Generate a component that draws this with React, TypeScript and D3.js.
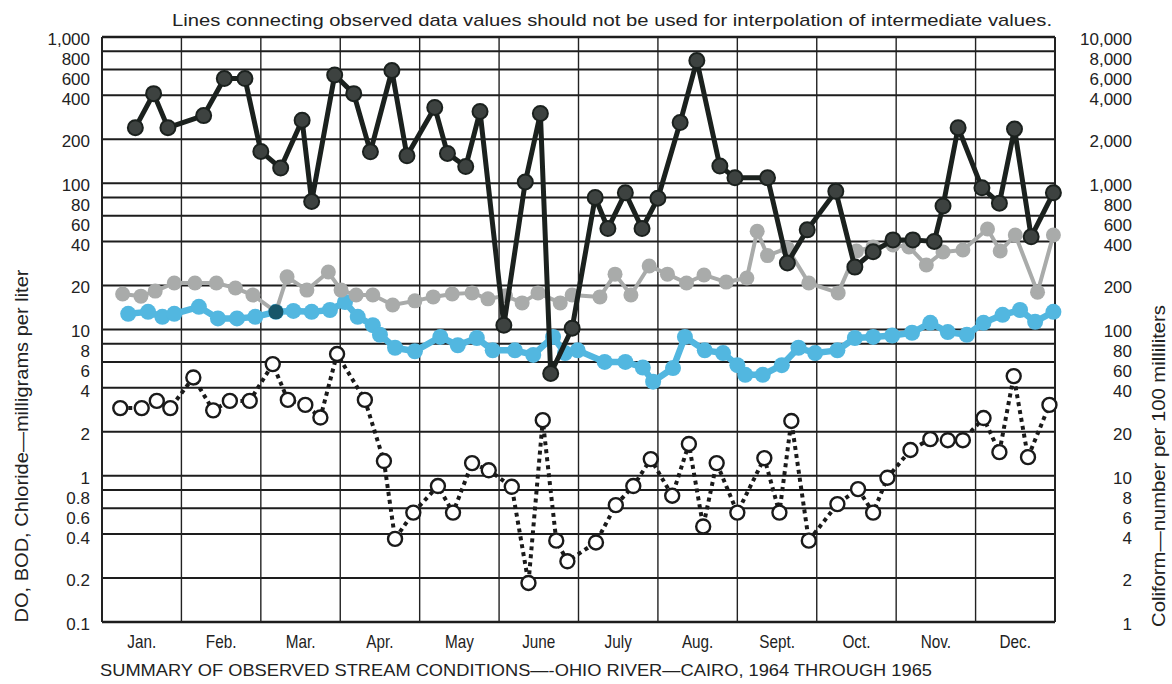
import * as d3 from 'd3'

const months = ['Jan.', 'Feb.', 'Mar.', 'Apr.', 'May', 'June', 'July', 'Aug.', 'Sept.', 'Oct.', 'Nov.', 'Dec.']

const leftTicks = [1000, 800, 600, 400, 200, 100, 80, 60, 40, 20, 10, 8, 6, 4, 2, 1, 0.8, 0.6, 0.4, 0.2, 0.1]
const leftTickLabels = ['1,000', '800', '600', '400', '200', '100', '80', '60', '40', '20', '10', '8', '6', '4', '2', '1', '0.8', '0.6', '0.4', '0.2', '0.1']
const rightTicks = [10000, 8000, 6000, 4000, 2000, 1000, 800, 600, 400, 200, 100, 80, 60, 40, 20, 10, 8, 6, 4, 2, 1]
const rightTickLabels = ['10,000', '8,000', '6,000', '4,000', '2,000', '1,000', '800', '600', '400', '200', '100', '80', '60', '40', '20', '10', '8', '6', '4', '2', '1']

// [month position, value]
const coliform: [number, number][] = [
  [0.42, 2400], [0.65, 4100], [0.83, 2400], [1.28, 2900], [1.54, 5200], [1.80, 5200],
  [2.00, 1650], [2.25, 1270], [2.52, 2700], [2.64, 750], [2.93, 5500], [3.17, 4100],
  [3.38, 1640], [3.65, 5900], [3.84, 1540], [4.19, 3300], [4.35, 1600], [4.58, 1300],
  [4.76, 3100], [5.06, 107], [5.33, 1020], [5.52, 3000], [5.65, 50], [5.92, 102],
  [6.21, 800], [6.37, 490], [6.59, 860], [6.80, 490], [7.00, 790], [7.28, 2600],
  [7.49, 6900], [7.78, 1310], [7.97, 1090], [8.38, 1090], [8.63, 285], [8.88, 480],
  [9.24, 880], [9.48, 267], [9.71, 340], [9.96, 410], [10.21, 410], [10.48, 400],
  [10.59, 700], [10.78, 2400], [11.08, 930], [11.30, 730], [11.49, 2350], [11.70, 430],
  [11.98, 860],
]

const chloride: [number, number][] = [
  [0.26, 17.5], [0.49, 16.9], [0.67, 18.3], [0.91, 20.8], [1.17, 20.8], [1.44, 20.8],
  [1.68, 19.2], [1.90, 17.2], [2.19, 13.2], [2.33, 22.9], [2.58, 18.6], [2.85, 24.7],
  [3.01, 18.6], [3.20, 17.2], [3.41, 17.2], [3.66, 14.7], [3.94, 15.7], [4.17, 16.7],
  [4.41, 17.5], [4.66, 17.8], [4.86, 16.2], [5.08, 17.0], [5.29, 15.2], [5.49, 17.8],
  [5.77, 15.2], [5.92, 17.2], [6.27, 16.7], [6.46, 23.9], [6.66, 17.2], [6.89, 27.2],
  [7.12, 23.9], [7.36, 20.8], [7.58, 23.6], [7.86, 21.1], [8.12, 22.5], [8.25, 47],
  [8.38, 32], [8.63, 36], [8.90, 20.8], [9.27, 17.8], [9.50, 34.4], [9.71, 36.7],
  [9.96, 37.8], [10.16, 36.7], [10.38, 27.6], [10.59, 33.9], [10.84, 35.0], [11.15, 48.7],
  [11.31, 34.4], [11.50, 44.3], [11.78, 18.0], [11.98, 44.3],
]

const dissolvedOxygen: [number, number][] = [
  [0.33, 12.8], [0.58, 13.2], [0.76, 12.2], [0.91, 12.8], [1.22, 14.3], [1.46, 11.9],
  [1.70, 11.9], [1.93, 12.2], [2.19, 13.2], [2.41, 13.4], [2.64, 13.2], [2.87, 13.6],
  [3.06, 15.4], [3.22, 12.2], [3.41, 10.7], [3.50, 9.2], [3.69, 7.5], [3.94, 7.1],
  [4.26, 8.9], [4.48, 7.8], [4.72, 8.75], [4.92, 7.2], [5.20, 7.2], [5.43, 6.7],
  [5.68, 8.9], [5.83, 6.9], [5.99, 7.2], [6.33, 6.0], [6.59, 6.0], [6.81, 5.5],
  [6.94, 4.4], [7.19, 5.45], [7.34, 8.9], [7.59, 7.2], [7.82, 6.9], [8.00, 5.7],
  [8.10, 4.9], [8.32, 4.9], [8.56, 5.7], [8.77, 7.5], [8.98, 6.9], [9.26, 7.2],
  [9.48, 8.75], [9.71, 8.9], [9.95, 9.1], [10.20, 9.5], [10.43, 11.1], [10.65, 9.6],
  [10.89, 9.2], [11.10, 11.1], [11.34, 12.6], [11.56, 13.6], [11.75, 11.3], [11.98, 13.2],
]

const bod: [number, number][] = [
  [0.23, 2.9], [0.50, 2.9], [0.69, 3.25], [0.86, 2.9], [1.15, 4.7], [1.40, 2.8],
  [1.61, 3.25], [1.86, 3.25], [2.15, 5.8], [2.34, 3.3], [2.56, 3.05], [2.75, 2.5],
  [2.96, 6.8], [3.31, 3.3], [3.55, 1.26], [3.69, 0.37], [3.92, 0.56], [4.23, 0.85],
  [4.42, 0.56], [4.66, 1.22], [4.87, 1.09], [5.16, 0.84], [5.37, 0.185], [5.55, 2.4],
  [5.72, 0.36], [5.86, 0.26], [6.22, 0.35], [6.47, 0.63], [6.69, 0.85], [6.91, 1.3],
  [7.18, 0.73], [7.39, 1.65], [7.57, 0.45], [7.74, 1.22], [8.00, 0.56], [8.34, 1.32],
  [8.53, 0.56], [8.68, 2.37], [8.90, 0.36], [9.26, 0.64], [9.52, 0.81], [9.71, 0.56],
  [9.89, 0.97], [10.18, 1.5], [10.43, 1.78], [10.65, 1.75], [10.84, 1.75], [11.10, 2.48],
  [11.30, 1.45], [11.48, 4.8], [11.66, 1.34], [11.93, 3.05],
]

const topNote = 'Lines connecting observed data values should not be used for interpolation of intermediate values.'
const bottomTitle = 'SUMMARY OF OBSERVED STREAM CONDITIONS\u2014-OHIO RIVER\u2014CAIRO, 1964 THROUGH 1965'
const leftTitle = 'DO, BOD, Chloride\u2014milligrams per liter'
const rightTitle = 'Coliform\u2014number per 100 milliliters'

const W = 1172
const H = 684
const plot = { left: 102, right: 1055, top: 37, bottom: 622 }
const font = "'Liberation Sans', Arial, sans-serif"
const ink = '#222'

// push crowded tick labels downward so they stack like the printed ones
function stackLabels(ys: number[], gap: number) {
  const out: number[] = []
  ys.forEach((y, i) => {
    out.push(i === 0 ? y : Math.max(y, out[i - 1] + gap))
  })
  return out
}

export default function App() {
  const x = d3.scaleLinear().domain([0, 12]).range([plot.left, plot.right])
  const yL = d3.scaleLog().domain([0.1, 1000]).range([plot.bottom, plot.top])
  const yR = d3.scaleLog().domain([1, 10000]).range([plot.bottom, plot.top])

  const lineL = d3.line<[number, number]>().x(d => x(d[0])).y(d => yL(d[1]))
  const lineR = d3.line<[number, number]>().x(d => x(d[0])).y(d => yR(d[1]))

  const leftLabelY = stackLabels(leftTicks.map(t => yL(t) + 2), 20)
  const rightLabelY = stackLabels(rightTicks.map(t => yR(t) + 2), 20)

  // gray and blue markers that print on top of each other turn dark teal
  const overlaps = (d: [number, number]) =>
    dissolvedOxygen.some(o => Math.abs(o[0] - d[0]) < 0.03 && Math.abs(Math.log10(o[1] / d[1])) < 0.02)

  return (
    <svg width={W} height={H} style={{ position: 'absolute', left: 0, top: 0, background: '#fff' }}>
      <rect width={W} height={H} fill="#fff" />

      {/* horizontal grid */}
      <g>
        {leftTicks.map(t => (
          <line key={t} x1={plot.left} x2={plot.right} y1={yL(t)} y2={yL(t)}
            stroke="#1d1d1d" strokeWidth={t === 1000 || t === 0.1 ? 2.5 : 2} />
        ))}
      </g>
      {/* vertical grid */}
      <g>
        {d3.range(0, 13).map(i => (
          <line key={i} x1={x(i)} x2={x(i)} y1={plot.top} y2={plot.bottom}
            stroke="#222" strokeWidth={i === 0 || i === 12 ? 2 : 1.4} />
        ))}
      </g>

      {/* left tick labels */}
      <g fontFamily={font} fontSize={17} fill={ink} textAnchor="end">
        {leftTicks.map((t, i) => (
          <text key={t} x={90} y={leftLabelY[i]} dy="0.35em">{leftTickLabels[i]}</text>
        ))}
      </g>
      {/* right tick labels */}
      <g fontFamily={font} fontSize={17} fill={ink} textAnchor="end">
        {rightTicks.map((t, i) => (
          <text key={t} x={1132} y={rightLabelY[i]} dy="0.35em">{rightTickLabels[i]}</text>
        ))}
      </g>

      {/* month labels */}
      <g fontFamily={font} fontSize={18} fill={ink} textAnchor="middle">
        {months.map((m, i) => (
          <text key={m} transform={`translate(${x(i + 0.5)},648) scale(0.85,1)`}>{m}</text>
        ))}
      </g>

      <text x={172} y={26} fontFamily={font} fontSize={17} fill={ink}
        textLength={880} lengthAdjust="spacingAndGlyphs">{topNote}</text>
      <text x={100} y={676} fontFamily={font} fontSize={17} fill={ink}
        textLength={832} lengthAdjust="spacingAndGlyphs">{bottomTitle}</text>
      <text transform="translate(28,446) rotate(-90)" textAnchor="middle" fontFamily={font} fontSize={18}
        fill={ink} textLength={353} lengthAdjust="spacingAndGlyphs">{leftTitle}</text>
      <text transform="translate(1165,466) rotate(-90)" textAnchor="middle" fontFamily={font} fontSize={18}
        fill={ink} textLength={322} lengthAdjust="spacingAndGlyphs">{rightTitle}</text>

      {/* BOD: open circles, dotted */}
      <g>
        <path d={lineL(bod) ?? ''} fill="none" stroke="#1a1a1a" strokeWidth={4} strokeDasharray="4 4" />
        {bod.map((d, i) => (
          <circle key={i} cx={x(d[0])} cy={yL(d[1])} r={7} fill="#fff" stroke="#1a1a1a" strokeWidth={2.4} />
        ))}
      </g>

      {/* DO: blue */}
      <g>
        <path d={lineL(dissolvedOxygen) ?? ''} fill="none" stroke="#52b7e0" strokeWidth={6.5} strokeLinejoin="round" />
        {dissolvedOxygen.map((d, i) => (
          <circle key={i} cx={x(d[0])} cy={yL(d[1])} r={8} fill="#52b7e0" />
        ))}
      </g>

      {/* Chloride: gray */}
      <g>
        <path d={lineL(chloride) ?? ''} fill="none" stroke="#a9abaa" strokeWidth={4} strokeLinejoin="round" />
        {chloride.map((d, i) => (
          <circle key={i} cx={x(d[0])} cy={yL(d[1])} r={7.5}
            fill={overlaps(d) ? '#17566a' : '#a9abaa'} />
        ))}
      </g>

      {/* Coliform: black */}
      <g>
        <path d={lineR(coliform) ?? ''} fill="none" stroke="#1b211e" strokeWidth={5} strokeLinejoin="round" />
        {coliform.map((d, i) => (
          <circle key={i} cx={x(d[0])} cy={yR(d[1])} r={7.5} fill="#3d4240" stroke="#1b211e" strokeWidth={2} />
        ))}
      </g>
    </svg>
  )
}
